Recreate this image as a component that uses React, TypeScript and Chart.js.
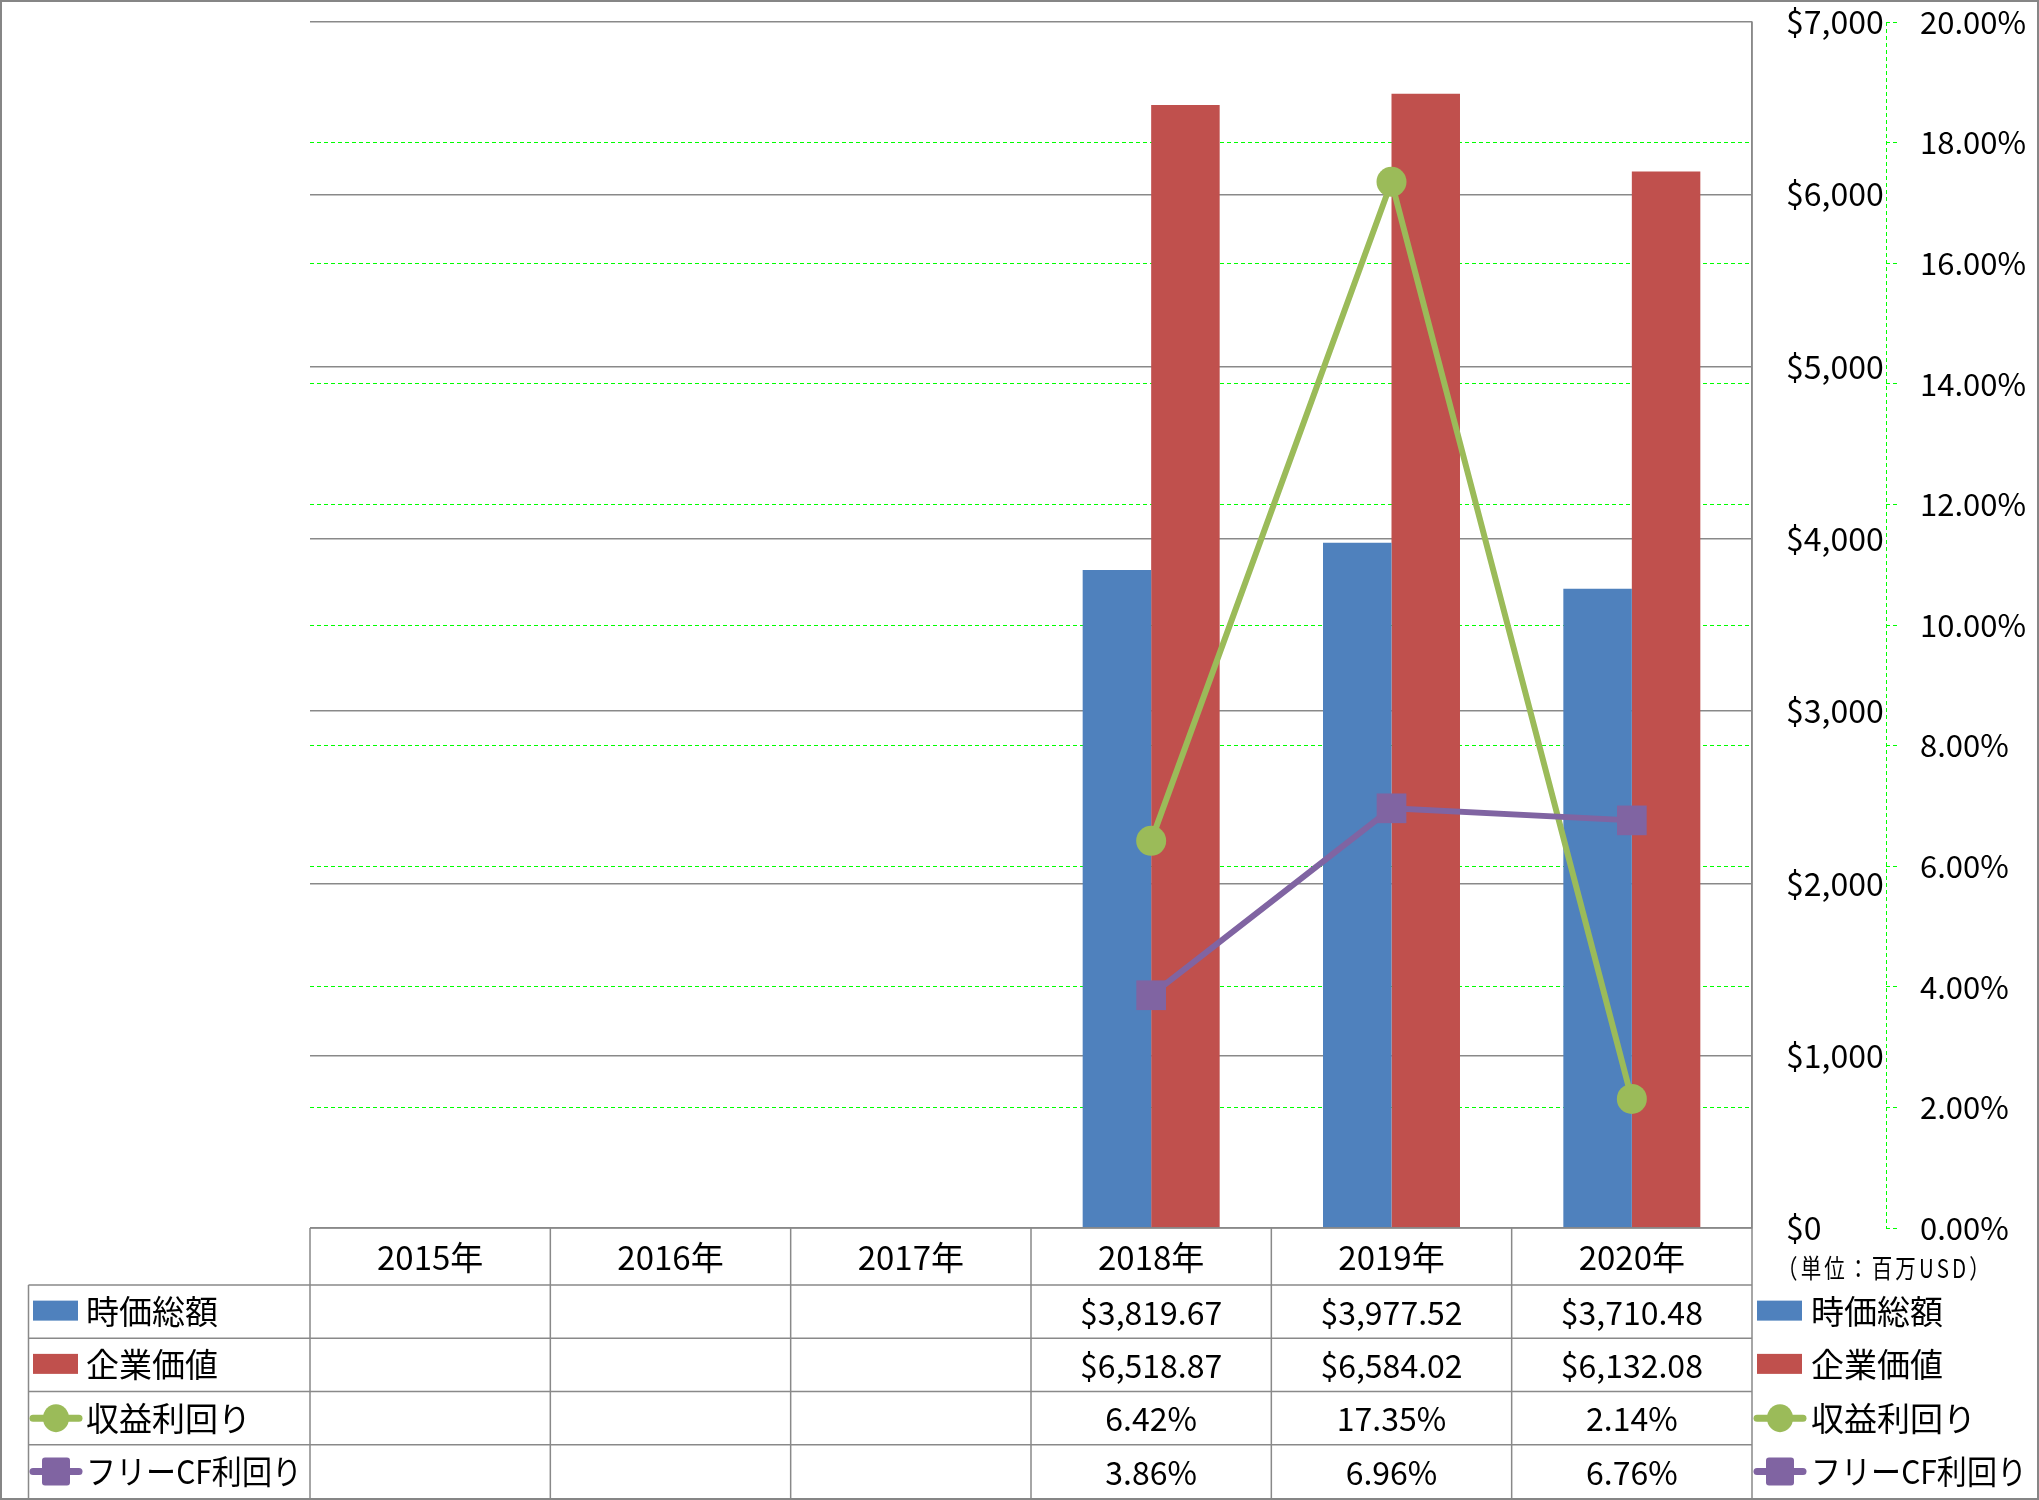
import React, { useEffect, useRef } from 'react';
import { Chart, registerables } from 'chart.js';

Chart.register(...registerables);

// ---- data ----
const years = ['2015年', '2016年', '2017年', '2018年', '2019年', '2020年'];
const marketCap = [null, null, null, 3819.67, 3977.52, 3710.48];
const enterpriseValue = [null, null, null, 6518.87, 6584.02, 6132.08];
const earningsYield = [null, null, null, 6.42, 17.35, 2.14];
const fcfYield = [null, null, null, 3.86, 6.96, 6.76];
const seriesNames = ['時価総額', '企業価値', '収益利回り', 'フリーCF利回り'];
const unitLabel = '（単位：百万USD）';
const usdMax = 7000;
const usdStep = 1000;
const pctMax = 20;
const pctStep = 2;

const BLUE = '#4F81BD';
const RED = '#C0504D';
const GREEN = '#9BBB59';
const PURPLE = '#8064A2';
const GRID_GRAY = '#898989';
const DASH_GREEN = '#00FF00';
const FONT = '"Noto Sans CJK JP", "Noto Sans", sans-serif';

const fmtUsd = (v: number) =>
  '$' + v.toLocaleString('en-US', { minimumFractionDigits: 2, maximumFractionDigits: 2 });
const fmtPct = (v: number) => v.toFixed(2) + '%';

const tableRows = [
  { name: seriesNames[0], values: marketCap, fmt: fmtUsd, kind: 'bar', color: BLUE },
  { name: seriesNames[1], values: enterpriseValue, fmt: fmtUsd, kind: 'bar', color: RED },
  { name: seriesNames[2], values: earningsYield, fmt: fmtPct, kind: 'circle', color: GREEN },
  { name: seriesNames[3], values: fcfYield, fmt: fmtPct, kind: 'square', color: PURPLE },
];

const W = 2039;
const H = 1500;
const HEADER_H = 57;
const TABLE_BOTTOM = 1498;
const TABLE_LEFT = 28.5;

function drawKey(ctx: CanvasRenderingContext2D, kind: string, color: string, x0: number, cy: number) {
  ctx.save();
  if (kind === 'bar') {
    ctx.fillStyle = color;
    ctx.fillRect(x0 + 3, cy - 11, 45, 20);
  } else {
    ctx.strokeStyle = color;
    ctx.lineWidth = 7;
    ctx.lineCap = 'round';
    ctx.beginPath();
    ctx.moveTo(x0 + 3, cy);
    ctx.lineTo(x0 + 49, cy);
    ctx.stroke();
    ctx.fillStyle = color;
    const cx = x0 + 26;
    if (kind === 'circle') {
      ctx.beginPath();
      ctx.ellipse(cx, cy, 13, 14, 0, 0, Math.PI * 2);
      ctx.fill();
    } else {
      const s = 28;
      const r = 3;
      const x = cx - s / 2;
      const y = cy - s / 2;
      ctx.beginPath();
      ctx.moveTo(x + r, y);
      ctx.arcTo(x + s, y, x + s, y + s, r);
      ctx.arcTo(x + s, y + s, x, y + s, r);
      ctx.arcTo(x, y + s, x, y, r);
      ctx.arcTo(x, y, x + s, y, r);
      ctx.closePath();
      ctx.fill();
    }
  }
  ctx.restore();
}

const tablePlugin = {
  id: 'dataTable',
  afterDraw(chart: any) {
    const ctx: CanvasRenderingContext2D = chart.ctx;
    const area = chart.chartArea;
    const xs = chart.scales.x;
    const y1 = chart.scales.y1;
    const n = years.length;
    const colW = xs.getPixelForValue(1) - xs.getPixelForValue(0);
    const top = area.bottom;
    const headerBottom = top + HEADER_H;
    const rowH = (TABLE_BOTTOM - headerBottom) / tableRows.length;

    ctx.save();
    // secondary axis dashed line
    ctx.strokeStyle = DASH_GREEN;
    ctx.lineWidth = 1;
    ctx.setLineDash([4, 3]);
    ctx.beginPath();
    ctx.moveTo(Math.round(y1.left) + 0.5, area.top);
    ctx.lineTo(Math.round(y1.left) + 0.5, area.bottom);
    ctx.stroke();
    ctx.setLineDash([]);

    // table lines
    ctx.strokeStyle = GRID_GRAY;
    ctx.lineWidth = 1.5;
    ctx.beginPath();
    ctx.moveTo(area.left, top);
    ctx.lineTo(area.right, top);
    for (let i = 0; i <= n; i++) {
      const x = xs.getPixelForValue(0) - colW / 2 + i * colW;
      ctx.moveTo(x, top);
      ctx.lineTo(x, TABLE_BOTTOM);
    }
    for (let r = 0; r < tableRows.length; r++) {
      const y = headerBottom + r * rowH;
      ctx.moveTo(TABLE_LEFT, y);
      ctx.lineTo(area.right, y);
    }
    ctx.moveTo(TABLE_LEFT, headerBottom);
    ctx.lineTo(TABLE_LEFT, TABLE_BOTTOM);
    ctx.moveTo(area.right, area.top);
    ctx.lineTo(area.right, TABLE_BOTTOM);
    ctx.stroke();

    // header
    ctx.fillStyle = '#000';
    ctx.textBaseline = 'middle';
    ctx.textAlign = 'center';
    ctx.font = '33px ' + FONT;
    for (let i = 0; i < n; i++) {
      ctx.fillText(years[i], xs.getPixelForValue(i), top + HEADER_H / 2 + 1);
    }

    // unit label
    ctx.font = '26px ' + FONT;
    (ctx as any).letterSpacing = '4px';
    ctx.fillText(unitLabel, 1885, top + 40, 216);
    (ctx as any).letterSpacing = '0px';

    // rows
    tableRows.forEach((row, r) => {
      const cy = headerBottom + r * rowH + rowH / 2;
      drawKey(ctx, row.kind, row.color, 30, cy);
      drawKey(ctx, row.kind, row.color, 1754, cy);
      ctx.fillStyle = '#000';
      ctx.textAlign = 'left';
      ctx.font = '33px ' + FONT;
      ctx.fillText(row.name, 86, cy, 216);
      ctx.fillText(row.name, 1811, cy, 216);
      ctx.textAlign = 'center';
      ctx.font = '32px ' + FONT;
      row.values.forEach((v, i) => {
        if (v === null || v === undefined) return;
        ctx.fillText(row.fmt(v as number), xs.getPixelForValue(i), cy + 1, colW - 20);
      });
    });

    // outer border
    ctx.strokeStyle = '#868686';
    ctx.lineWidth = 2;
    ctx.strokeRect(1, 1, W - 2, H - 2);
    ctx.restore();
  },
};

export default function App() {
  const ref = useRef<HTMLCanvasElement | null>(null);
  useEffect(() => {
    if (!ref.current) return;
    const chart = new Chart(ref.current, {
      type: 'bar',
      data: {
        labels: years,
        datasets: [
          {
            type: 'bar',
            label: seriesNames[0],
            data: marketCap as any,
            backgroundColor: BLUE,
            yAxisID: 'y',
            order: 2,
            barPercentage: 1,
            categoryPercentage: 0.57,
          },
          {
            type: 'bar',
            label: seriesNames[1],
            data: enterpriseValue as any,
            backgroundColor: RED,
            yAxisID: 'y',
            order: 2,
            barPercentage: 1,
            categoryPercentage: 0.57,
          },
          {
            type: 'line',
            label: seriesNames[2],
            data: earningsYield as any,
            borderColor: GREEN,
            backgroundColor: GREEN,
            borderWidth: 6,
            pointStyle: 'circle',
            pointRadius: 15,
            pointBorderWidth: 0,
            tension: 0,
            yAxisID: 'y1',
            order: 1,
          },
          {
            type: 'line',
            label: seriesNames[3],
            data: fcfYield as any,
            borderColor: PURPLE,
            backgroundColor: PURPLE,
            borderWidth: 6,
            pointStyle: 'rectRot',
            pointRotation: 45,
            pointRadius: 21,
            pointBorderWidth: 0,
            tension: 0,
            yAxisID: 'y1',
            order: 0,
          },
        ],
      },
      options: {
        responsive: false,
        animation: false,
        events: [],
        layout: { padding: { left: 310, top: 22, bottom: 272, right: 13 } },
        plugins: {
          legend: { display: false },
          tooltip: { enabled: false },
          title: { display: false },
        },
        scales: {
          x: {
            display: false,
            offset: true,
          },
          y: {
            position: 'right',
            min: 0,
            max: usdMax,
            afterFit: (s: any) => {
              s.width = 134;
              s.paddingTop = 0;
              s.paddingBottom = 0;
            },
            ticks: {
              stepSize: usdStep,
              padding: 34,
              color: '#000',
              font: { family: FONT, size: 32 },
              callback: (v: any) => '$' + Number(v).toLocaleString('en-US'),
            },
            grid: {
              color: GRID_GRAY,
              lineWidth: 1.5,
              drawTicks: false,
            },
            border: { display: true, color: GRID_GRAY, width: 1.5 },
          },
          y1: {
            position: 'right',
            min: 0,
            max: pctMax,
            afterFit: (s: any) => {
              s.width = 140;
              s.paddingTop = 0;
              s.paddingBottom = 0;
            },
            ticks: {
              stepSize: pctStep,
              padding: 23,
              color: '#000',
              font: { family: FONT, size: 31 },
              callback: (v: any) => Number(v).toFixed(2) + '%',
            },
            grid: {
              color: (c: any) =>
                c.tick && (c.tick.value === 0 || c.tick.value === pctMax) ? 'rgba(0,0,0,0)' : DASH_GREEN,
              lineWidth: 1,
              drawTicks: true,
              tickLength: 11,
              tickColor: DASH_GREEN,
              tickWidth: 1,
              tickBorderDash: [4, 3],
            },
            border: { display: false, dash: [4, 3] },
          },
        },
      },
      plugins: [tablePlugin],
    });
    return () => chart.destroy();
  }, []);

  return (
    <div style={{ position: 'fixed', left: 0, top: 0, width: W, height: H, background: '#fff' }}>
      <canvas ref={ref} width={W} height={H} style={{ display: 'block' }} />
    </div>
  );
}
